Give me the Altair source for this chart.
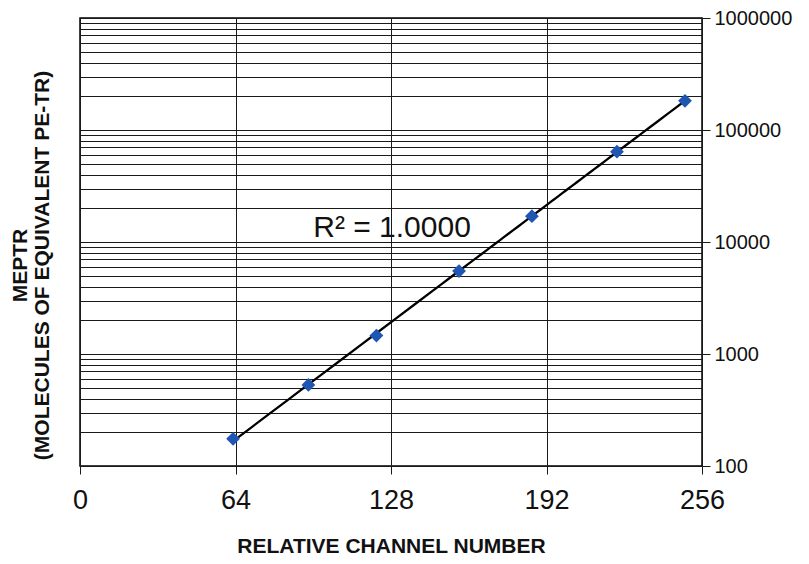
import altair as alt
import pandas as pd

# Data
channel = [63, 94, 122, 156, 186, 221, 249]
meptr = [175, 530, 1460, 5500, 17000, 64000, 182000]

x_ticks = [0, 64, 128, 192, 256]
decades = [100, 1000, 10000, 100000, 1000000]
multipliers = [1, 2, 3, 4, 5, 6, 7, 8, 9]
y_grid = sorted(set([m * d for d in decades[:-1] for m in multipliers] + [decades[-1]]))

r2_label = ["R² = 1.0000"]
r2_channel = [96]
r2_meptr = [11000]

df = pd.DataFrame({"channel": channel, "meptr": meptr})
df_text = pd.DataFrame({"channel": r2_channel, "meptr": r2_meptr, "label": r2_label})

FONT = "Liberation Sans"
dec_test = "indexof([100,1000,10000,100000,1000000], datum.value) >= 0"

W, H = 622, 448
PAD_L, PAD_T = 72, 10

x_enc = alt.X(
    "channel:Q",
    scale=alt.Scale(domain=[0, 256], nice=False, zero=False),
    axis=alt.Axis(
        values=x_ticks,
        title="RELATIVE CHANNEL NUMBER",
        grid=True,
        gridColor="#1a1a1a",
        gridWidth=1,
        domain=False,
        ticks=True,
        tickSize=8,
        tickColor="#1a1a1a",
        labelFont=FONT,
        labelFontSize=27,
        labelColor="#111111",
        labelBaseline="alphabetic",
        labelPadding=34,
        labelFlush=False,
        labelOverlap=False,
        titleFont=FONT,
        titleFontSize=21,
        titleFontWeight="bold",
        titleColor="#111111",
        titleBaseline="alphabetic",
        titleY=86,
    ),
)

y_enc = alt.Y(
    "meptr:Q",
    scale=alt.Scale(type="log", domain=[100, 1000000], nice=False),
    axis=alt.Axis(
        orient="right",
        values=y_grid,
        format="d",
        labelExpr=f"{dec_test} ? datum.label : ''",
        labelOverlap=False,
        labelFlush=False,
        grid=True,
        gridColor="#1a1a1a",
        gridWidth=1,
        domain=False,
        ticks=True,
        tickSize=8,
        tickColor="#1a1a1a",
        tickOpacity={"condition": {"test": dec_test, "value": 1}, "value": 0},
        labelFont=FONT,
        labelFontSize=20,
        labelColor="#111111",
        labelPadding=4,
        title=["MEPTR", "(MOLECULES OF EQUIVALENT PE-TR)"],
        titleFont=FONT,
        titleFontSize=21,
        titleFontWeight="bold",
        titleColor="#111111",
        titleAngle=270,
        titleAlign="center",
        titleBaseline="top",
        titleLineHeight=22,
        titleX=1 - (PAD_L + W),
        titleY=247,
    ),
)

base = alt.Chart(df)

trend = base.transform_regression("channel", "meptr", method="exp").mark_line(
    color="black", strokeWidth=2.3
).encode(x=x_enc, y=y_enc)

points = base.mark_point(
    shape="diamond", filled=True, size=190, color="#1f56b3", opacity=1
).encode(x=x_enc, y=y_enc)

text = alt.Chart(df_text).mark_text(
    align="left", baseline="alphabetic", fontSize=30, font=FONT, color="#111111"
).encode(x=x_enc, y=y_enc, text="label:N")

chart = alt.layer(trend, points, text).properties(
    width=W,
    height=H,
    autosize=alt.AutoSizeParams(type="none"),
    padding={"left": PAD_L, "top": PAD_T, "right": 809 - 16 - PAD_L - W, "bottom": 564 - 16 - PAD_T - H},
    background="white",
).configure_view(stroke="black", strokeWidth=1.5)

chart.save("out.html", embed_options={"renderer": "svg", "actions": False})
